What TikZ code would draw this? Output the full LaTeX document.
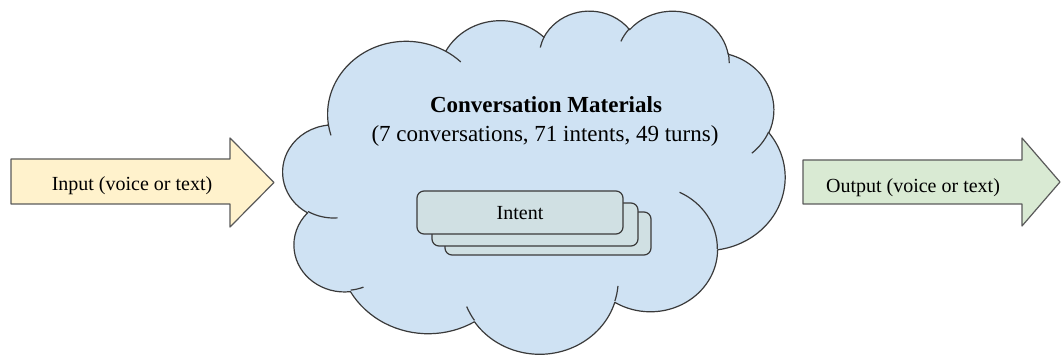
\documentclass[tikz,border=0pt]{standalone}
\usepackage{fontspec}
\setmainfont{Liberation Serif}
\definecolor{entrada}{HTML}{FFF2CC}
\definecolor{salida}{HTML}{D9EAD3}
\definecolor{nube}{HTML}{CFE2F3}
\definecolor{intencion}{HTML}{D0E0E3}
\definecolor{borde}{HTML}{5A5A5A}
\definecolor{bordenube}{HTML}{3A3A3A}
% arco de elipse con angulos visuales (radio x, radio y, inicio, barrido)
\newcommand{\lobulo}[4]{arc[start angle={atan2(#1*sin(#3),#2*cos(#3))},
  delta angle={mod(atan2(#1*sin(#3+#4),#2*cos(#3+#4))-atan2(#1*sin(#3),#2*cos(#3))+720,360)},
  x radius=#1, y radius=#2]}
\begin{document}
\begin{tikzpicture}[x=1pt, y=-1pt, line join=round,
    flecha/.style={draw=borde, line width=1.2pt},
    caja/.style={draw=bordenube, fill=intencion, line width=1.2pt, rounded corners=7pt},
    texto/.style={anchor=base, font=\fontsize{20}{24}\selectfont},
    grande/.style={anchor=base, font=\fontsize{23}{28}\selectfont}]
    \useasboundingbox (0,0) rectangle (1061,355);

    % Flechas de entrada y salida
    \draw[flecha, fill=entrada] (11,159) -- (230,159) -- (230,138) -- (274,182.5) -- (230,227) -- (230,204) -- (11,204) -- cycle;
    \draw[flecha, fill=salida] (803,160) -- (1022,160) -- (1022,138) -- (1060,182) -- (1022,226) -- (1022,204) -- (803,204) -- cycle;
    \node[texto] (input) at (132,191) {Input (voice or text)};
    \node[texto] (output) at (913,193) {Output (voice or text)};

    % Nube
    \begin{scope}[shift={(283,10)}, x=0.1162pt, y=-0.0794pt]
        \draw[fill=nube, draw=bordenube, line width=1.2pt] (390,1437)
            \lobulo{675.3}{919.0}{-190.4875}{123.7805}
            \lobulo{533.3}{726.7}{-144.1024}{89.9452}
            \lobulo{436.5}{594.5}{-145.8079}{99.7230}
            \lobulo{485.7}{659.5}{-130.9861}{117.2417}
            \lobulo{533.3}{727.3}{-78.7089}{109.0269}
            \lobulo{677.5}{922.0}{-46.2673}{130.2690}
            \lobulo{578.5}{786.7}{0.6250}{114.0333}
            \lobulo{675.2}{921.5}{22.4516}{115.1726}
            \lobulo{772.0}{1054.3}{66.2426}{75.7110}
            \lobulo{436.0}{591.8}{-274.9421}{146.7356}
            \lobulo{434.5}{594.5}{-246.8285}{152.5171} -- cycle;
        \draw[draw=bordenube, line width=1.2pt]
            (469.3,2617.7) \lobulo{434.5}{594.5}{86.7420}{26.4295}
            (692.8,3489.9) \lobulo{436.0}{591.8}{73.6105}{11.4475}
            (1647.8,3909.0) \lobulo{675.2}{921.5}{137.6242}{14.0811}
            (2882.7,3475.1) \lobulo{675.2}{921.5}{6.4533}{15.9984}
            (3412.9,2295.4) \lobulo{578.5}{786.7}{-70.2924}{70.9174}
            (4179.8,1535.4) \lobulo{533.3}{727.3}{30.3180}{27.7515}
            (3832.4,542.6) \lobulo{485.7}{659.5}{-13.7443}{14.8589}
            (2907.8,395.2) \lobulo{485.7}{659.5}{-149.1815}{18.1954}
            (2214.1,472.0) \lobulo{436.5}{594.5}{-163.4943}{17.6864}
            (1400.0,519.2) \lobulo{675.3}{919.0}{-66.7070}{12.3194}
            (412.7,1578.9) \lobulo{675.3}{919.0}{157.6544}{11.8582};
    \end{scope}
    \node[grande, font=\bfseries\fontsize{23}{28}\selectfont] (titulo) at (546,113) {Conversation Materials};
    \node[grande] (recuento) at (545,142) {(7 conversations, 71 intents, 49 turns)};

    % Pila de intenciones
    \foreach \dx/\dy in {28/21, 15/12, 0/0} {
        \draw[caja] (417+\dx,191+\dy) rectangle ++(206,43);
    }
    \node[texto] (intent) at (520,220) {Intent};
\end{tikzpicture}
\end{document}
